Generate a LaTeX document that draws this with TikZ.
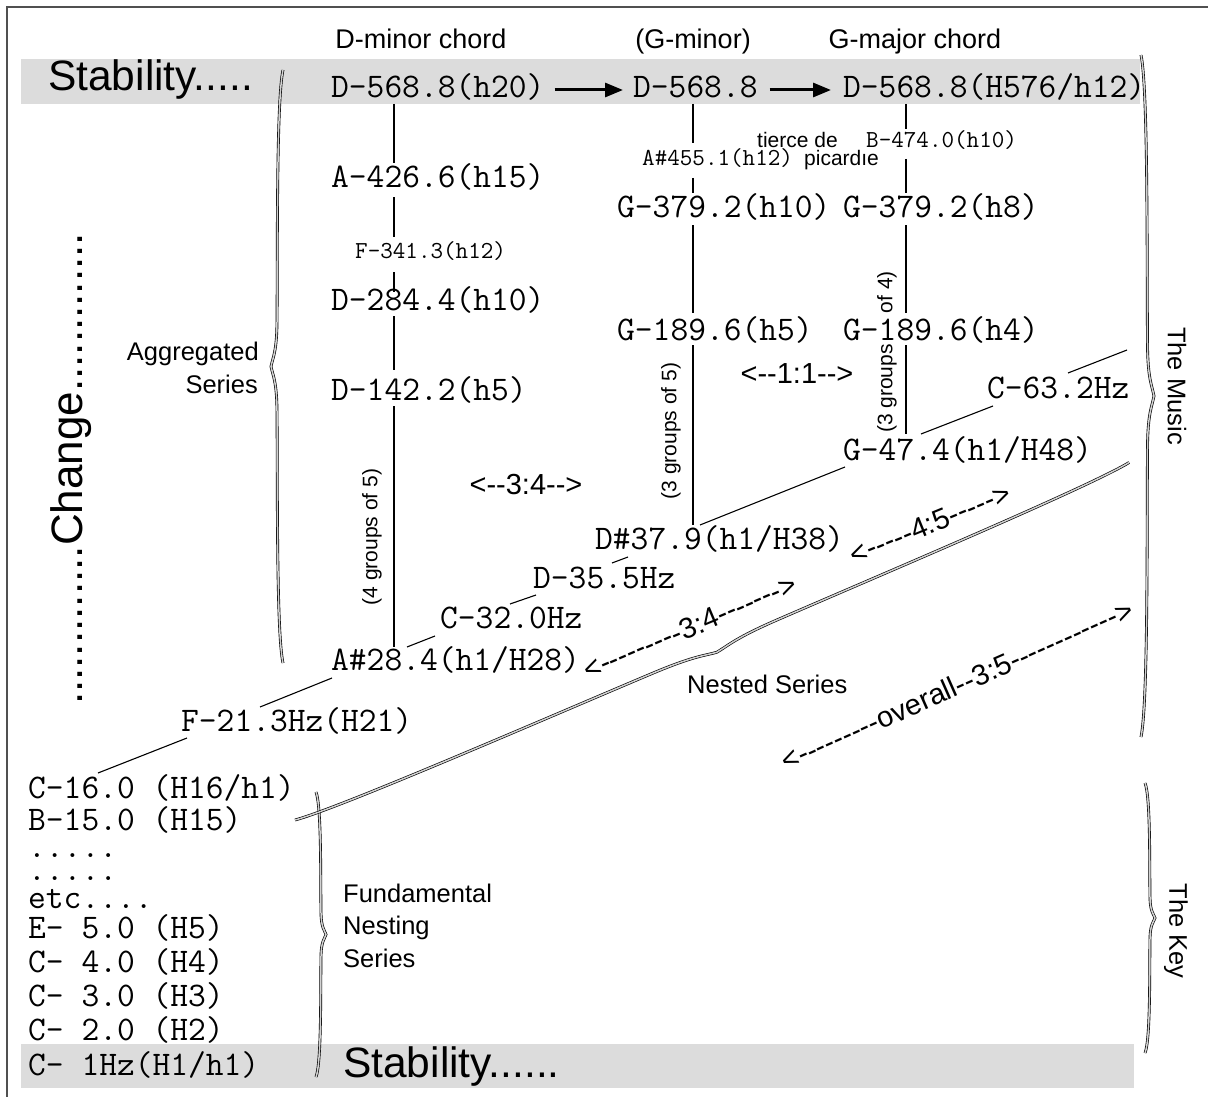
\documentclass[tikz,border=0pt]{standalone}
\usepackage{fontspec}
\setmainfont{Liberation Sans}
\newfontfamily\plainsans{Liberation Sans}[Ligatures=TeXOff]
\usetikzlibrary{calc,arrows.meta}

\definecolor{bandgray}{HTML}{DCDCDC}
\definecolor{bracefill}{HTML}{D2D2D2}
\definecolor{framegray}{HTML}{505050}

\newcommand{\bigmono}{\ttfamily\fontsize{34.5pt}{38pt}\selectfont}
\newcommand{\smallmono}{\ttfamily\fontsize{24.4pt}{27pt}\selectfont}
\newcommand{\labelsans}{\plainsans\fontsize{25.5pt}{30pt}\selectfont}
\newcommand{\headsans}{\plainsans\fontsize{27pt}{32pt}\selectfont}
\newcommand{\tinysans}{\plainsans\fontsize{21pt}{25pt}\selectfont}
\newcommand{\ratiosans}{\plainsans\fontsize{29pt}{34pt}\selectfont}
\newcommand{\hugesans}{\plainsans\fontsize{42.5pt}{48pt}\selectfont}

% long curly brace along the local x axis, tip at local y = amplitude
% #1 start point, #2 angle, #3 length, #4 amplitude
\newcommand{\longbrace}[4]{%
  \draw[bracestyle, shift={(#1)}, rotate=#2]
    (0,0) .. controls ({0.05*(#3)},{0.55*(#4)}) and ({0.3*(#3)},{0.45*(#4)}) .. ({0.425*(#3)},{0.5*(#4)})
    .. controls ({0.475*(#3)},{0.52*(#4)}) and ({0.485*(#3)},{0.85*(#4)}) .. ({0.5*(#3)},{#4})
    .. controls ({0.515*(#3)},{0.85*(#4)}) and ({0.525*(#3)},{0.52*(#4)}) .. ({0.575*(#3)},{0.5*(#4)})
    .. controls ({0.7*(#3)},{0.45*(#4)}) and ({0.95*(#3)},{0.55*(#4)}) .. ({#3},0);}

\begin{document}
\begin{tikzpicture}[x=1pt, y=-1pt,
  every node/.style={inner sep=0pt},
  note/.style={anchor=base west, font=\bigmono},
  snote/.style={anchor=base west, font=\smallmono},
  lab/.style={font=\labelsans},
  head/.style={font=\headsans, anchor=base},
  vline/.style={line width=2.4pt},
  link/.style={line width=1.1pt},
  bracestyle/.style={line width=0.65pt, double=bracefill, double distance=1.5pt},
  fwd/.style={line width=3pt, -{Triangle[length=18pt, width=14pt]}},
  ratio/.style={font=\ratiosans}]
\useasboundingbox (0,0) rectangle (1208,1097);

% frame and the two stability bands
\draw[framegray, line width=2pt] (1208,7) -- (7,7) -- (7,1097);
\fill[bandgray] (21,59) rectangle (1140,104);
\fill[bandgray] (21,1044) rectangle (1134,1088);

\node[anchor=base west, font=\hugesans] (stabtop) at (48,91) {Stability.....};
\node[anchor=base west, font=\hugesans] (stabbot) at (343,1077) {Stability......};
\node[anchor=base, rotate=90, font=\plainsans\fontsize{44pt}{50pt}\selectfont] (change) at (82,469)
  {.............Change.............};

% chord headings
\node[head] (hdmin) at (421,49) {D-minor chord};
\node[head] (hgmin) at (693,49) {(G-minor)};
\node[head] (hgmaj) at (915,49) {G-major chord};

% column x positions
\coordinate (cA) at (394,0);
\coordinate (cB) at (693,0);
\coordinate (cC) at (906,0);

% D-minor column
\node[note] (d1) at (331,98) {D-568.8(h20)};
\node[note] (a426) at (331,188) {A-426.6(h15)};
\node[snote] (f341) at (355,258) {F-341.3(h12)};
\node[note] (d284) at (331,310) {D-284.4(h10)};
\node[note] (d142) at (331,400) {D-142.2(h5)};
\node[note] (as28) at (331,670) {A\#28.4(h1/H28)};

% G-minor column
\node[note] (d2) at (633,98) {D-568.8};
\node[snote] (as455) at (642,166) {A\#455.1(h12)};
\node[note] (g379a) at (617,218) {G-379.2(h10)};
\node[note] (g189a) at (617,340) {G-189.6(h5)};
\node[note] (ds37) at (595,549) {D\#37.9(h1/H38)};

% G-major column
\node[note] (d3) at (843,98) {D-568.8(H576/h12)};
\node[snote] (b474) at (866,148) {B-474.0(h10)};
\node[note] (g379b) at (843,218) {G-379.2(h8)};
\node[note] (g189b) at (843,340) {G-189.6(h4)};
\node[note] (g47) at (843,460) {G-47.4(h1/H48)};
\node[note] (c63) at (987,398) {C-63.2Hz};

\node[anchor=base west, font=\tinysans] (tierce) at (757,148) {tierce de};
\node[anchor=base west, font=\tinysans] (picardie) at (804,166) {picard\char"0131 e};

% nested series chain
\node[note] (f21) at (181,731) {F-21.3Hz(H21)};
\node[note] (c32) at (440,628) {C-32.0Hz};
\node[note] (d35) at (533,588) {D-35.5Hz};

% fundamental series list
\node[note] (c16) at (28,798) {C-16.0 (H16/h1)};
\node[note] (b15) at (28,830) {B-15.0 (H15)};
\node[note] (dots1) at (28,857) {.....};
\node[note] (dots2) at (28,880) {.....};
\node[note] (etc) at (28,908) {etc....};
\node[note] (e5) at (28,938) {E- 5.0 (H5)};
\node[note] (c4) at (28,972) {C- 4.0 (H4)};
\node[note] (c3) at (28,1006) {C- 3.0 (H3)};
\node[note] (c2) at (28,1040) {C- 2.0 (H2)};
\node[note] (c1) at (28,1075) {C- 1Hz(H1/h1)};

% progression arrows along the top band
\draw[fwd] ($(d1.base east)+(10,-8)$) -- ($(d2.base west)+(-10,-8)$);
\draw[fwd] ($(d2.base east)+(12,-8)$) -- ($(d3.base west)+(-12,-8)$);

% vertical stems, D-minor
\draw[vline] ($(d1.base -| cA)+(0,6)$) -- ($(a426.base -| cA)+(0,-25)$);
\draw[vline] ($(a426.base -| cA)+(0,9)$) -- ($(f341.base -| cA)+(0,-21)$);
\draw[vline] ($(f341.base -| cA)+(0,14)$) -- ($(d284.base -| cA)+(0,-18)$);
\draw[vline] ($(d284.base -| cA)+(0,6)$) -- ($(d142.base -| cA)+(0,-30)$);
\draw[vline] ($(d142.base -| cA)+(0,6)$) -- ($(as28.base -| cA)+(0,-23)$);
% G-minor
\draw[vline] ($(d2.base -| cB)+(0,6)$) -- ($(as455.base -| cB)+(0,-23)$);
\draw[vline] ($(as455.base -| cB)+(0,12)$) -- ($(g379a.base -| cB)+(0,-25)$);
\draw[vline] ($(g379a.base -| cB)+(0,7)$) -- ($(g189a.base -| cB)+(0,-27)$);
\draw[vline] ($(g189a.base -| cB)+(0,5)$) -- ($(ds37.base -| cB)+(0,-24)$);
% G-major
\draw[vline] ($(d3.base -| cC)+(0,6)$) -- ($(b474.base -| cC)+(0,-19)$);
\draw[vline] ($(b474.base -| cC)+(0,11)$) -- ($(g379b.base -| cC)+(0,-25)$);
\draw[vline] ($(g379b.base -| cC)+(0,7)$) -- ($(g189b.base -| cC)+(0,-27)$);
\draw[vline] ($(g189b.base -| cC)+(0,5)$) -- ($(g47.base -| cC)+(0,-26)$);

% group counts
\node[rotate=90, font=\tinysans] (grp45) at (372,537) {(4 groups of 5)};
\node[rotate=90, font=\tinysans] (grp35) at (671,431) {(3 groups of 5)};
\node[rotate=90, font=\tinysans] (grp34) at (887,352) {(3 groups\hspace{31pt}of 4)};

% diagonal links of the nested series
\coordinate (topend) at (1127,350);
\draw[link] ($(c16.base west)+(70,-25)$) -- ($(f21.base west)+(6,7)$);
\draw[link] ($(f21.base west)+(79,-24)$) -- ($(as28.base west)+(1,8)$);
\draw[link] ($(as28.base west)+(76,-23)$) -- ($(c32.base west)+(-5,8)$);
\draw[link] ($(c32.base west)+(70,-24)$) -- ($(d35.base west)+(3,7)$);
\draw[link] ($(d35.base west)+(79,-25)$) -- ($(ds37.base west)+(33,8)$);
\draw[link] ($(ds37.base west)+(105,-24)$) -- ($(g47.base west)+(2,7)$);
\draw[link] ($(g47.base west)+(78,-26)$) -- ($(c63.base west)+(6,8)$);
\draw[link] ($(c63.base west)+(81,-25)$) -- (topend);

% ratios
\node[ratio] (r34h) at (526,485) {<--3:4-->};
\node[ratio] (r11h) at (797,374) {<--1:1-->};
\node[ratio, rotate=22.8] (r34) at (690,627) {<---------3:4------->};
\node[ratio, rotate=22.2] (r45) at (930,524) {<-----4:5----->};
\node[ratio, rotate=23.9] (rall) at (957,685) {<---------overall--3:5------------>};

% braces
\longbrace{283,70}{-90}{593}{12}
\longbrace{1141,55}{-90}{682}{-13}
\longbrace{1145,783}{-90}{270}{-10}
\longbrace{316,792}{-90}{285}{-10}
\longbrace{295,820}{23.2}{907.6}{12}

% brace labels
\node[lab, anchor=base east] (agg1) at (259,360) {Aggregated};
\node[lab, anchor=base east] (agg2) at (258,393) {Series};
\node[lab, anchor=base west] (nested) at (687,693) {Nested Series};
\node[lab, anchor=base west] (fund1) at (343,902) {Fundamental};
\node[lab, anchor=base west] (fund2) at (343,934) {Nesting};
\node[lab, anchor=base west] (fund3) at (343,967) {Series};
\node[rotate=-90, font=\plainsans\fontsize{25.5pt}{30pt}\selectfont] (music) at (1177,386) {The Music};
\node[rotate=-90, font=\plainsans\fontsize{25.5pt}{30pt}\selectfont] (key) at (1176,931) {The Key};
\end{tikzpicture}
\end{document}
